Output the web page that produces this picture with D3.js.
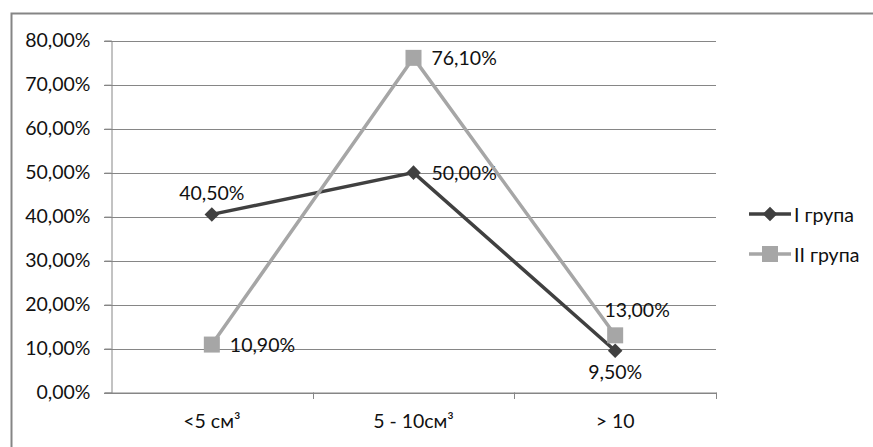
<!DOCTYPE html>
<html><head><meta charset="utf-8">
<script src="https://cdn.jsdelivr.net/npm/d3@7"></script>
<style>body{margin:0;background:#fff}svg{display:block}text{font-family:Lato,"Open Sans",sans-serif;fill:#111}</style>
</head><body>
<script>
const categories = ["<5 см³", "5 - 10см³", "> 10"];
const seriesNames = ["I група", "II група"];
const group1 = [40.5, 50.0, 9.5];
const group2 = [10.9, 76.1, 13.0];
const yTicks = [0, 10, 20, 30, 40, 50, 60, 70, 80];
const labelPos = [["above", "right", "below"], ["right", "right", "aboveRight"]];

const W = 873, H = 447;
const svg = d3.select("body").append("svg").attr("width", W).attr("height", H);
const fmt = v => v.toFixed(2).replace(".", ",") + "%";
const FS = "19.5px";

// outer frame (top + left visible)
svg.append("path").attr("d", `M11.5,447 V13.5 H873`).attr("fill", "none").attr("stroke", "#858585").attr("stroke-width", 2);

const x = d3.scaleBand().domain(categories).range([111, 716]);
const y = d3.scaleLinear().domain([0, 80]).range([392.5, 40.7]);

// gridlines
svg.append("g").selectAll("line").data(yTicks).join("line")
  .attr("x1", 104).attr("x2", 716)
  .attr("y1", d => Math.round(y(d)) + 0.5).attr("y2", d => Math.round(y(d)) + 0.5)
  .attr("stroke", "#868686").attr("stroke-width", 1);

// y axis
const yAxis = svg.append("g").attr("transform", "translate(111.5,0)")
  .call(d3.axisLeft(y).tickValues(yTicks).tickFormat(fmt).tickSize(7).tickPadding(14));
yAxis.select(".domain").attr("stroke", "#868686");
yAxis.selectAll(".tick line").attr("stroke", "#868686");
yAxis.selectAll("text").style("font-size", FS).attr("fill", "#111").style("font-family", "Lato, sans-serif");

// x axis
const xAxis = svg.append("g").attr("transform", "translate(0,392.5)")
  .call(d3.axisBottom(x).tickSize(0).tickPadding(22));
xAxis.select(".domain").attr("stroke", "#868686");
xAxis.selectAll("text").style("font-size", FS).attr("fill", "#111").style("font-family", "Lato, sans-serif");
// category boundary ticks
svg.append("g").selectAll("line").data(categories).join("line")
  .attr("x1", (d, i) => Math.round(x(categories[0]) + x.step() * (i + 1)) + 0.5)
  .attr("x2", (d, i) => Math.round(x(categories[0]) + x.step() * (i + 1)) + 0.5)
  .attr("y1", 392.5).attr("y2", 399).attr("stroke", "#868686");

const cx = c => x(c) + x.bandwidth() / 2;
const series = [
  {name: seriesNames[0], values: group1, color: "#404040", shape: "diamond"},
  {name: seriesNames[1], values: group2, color: "#a6a6a6", shape: "square"}
];
const line = d3.line().x((d, i) => cx(categories[i])).y(d => y(d));

function marker(g, shape, color, px, py) {
  if (shape === "diamond") {
    g.append("path").attr("d", d3.symbol(d3.symbolDiamond2, 135)())
      .attr("transform", `translate(${px},${py})`).attr("fill", color);
  } else {
    g.append("rect").attr("x", px - 8).attr("y", py - 8).attr("width", 16).attr("height", 16).attr("fill", color);
  }
}

// data labels
series.forEach((s, si) => {
  s.values.forEach((v, i) => {
    const px = cx(categories[i]), py = y(v);
    const pos = labelPos[si][i];
    let tx = px, ty = py, anchor = "middle";
    if (pos === "above") { ty = py - 22; }
    else if (pos === "below") { ty = py + 21; }
    else if (pos === "right") { tx = px + 18; anchor = "start"; }
    else if (pos === "aboveRight") { tx = px + 22; ty = py - 26; }
    svg.append("text").attr("x", tx).attr("y", ty).attr("text-anchor", anchor)
      .attr("dominant-baseline", "central").style("font-size", FS).text(fmt(v));
  });
});

series.forEach(s => {
  const g = svg.append("g");
  g.append("path").datum(s.values).attr("d", line).attr("fill", "none")
    .attr("stroke", s.color).attr("stroke-width", 3.5).attr("stroke-linejoin", "miter");
  s.values.forEach((v, i) => marker(g, s.shape, s.color, cx(categories[i]), y(v)));
});

// legend
const leg = svg.append("g");
series.forEach((s, i) => {
  const ly = 214 + i * 40;
  leg.append("line").attr("x1", 749).attr("x2", 791).attr("y1", ly).attr("y2", ly)
    .attr("stroke", s.color).attr("stroke-width", 3.5);
  marker(leg, s.shape, s.color, 770, ly);
  leg.append("text").attr("x", 794).attr("y", ly).attr("dominant-baseline", "central")
    .style("font-size", FS).text(s.name);
});
</script>
</body></html>
